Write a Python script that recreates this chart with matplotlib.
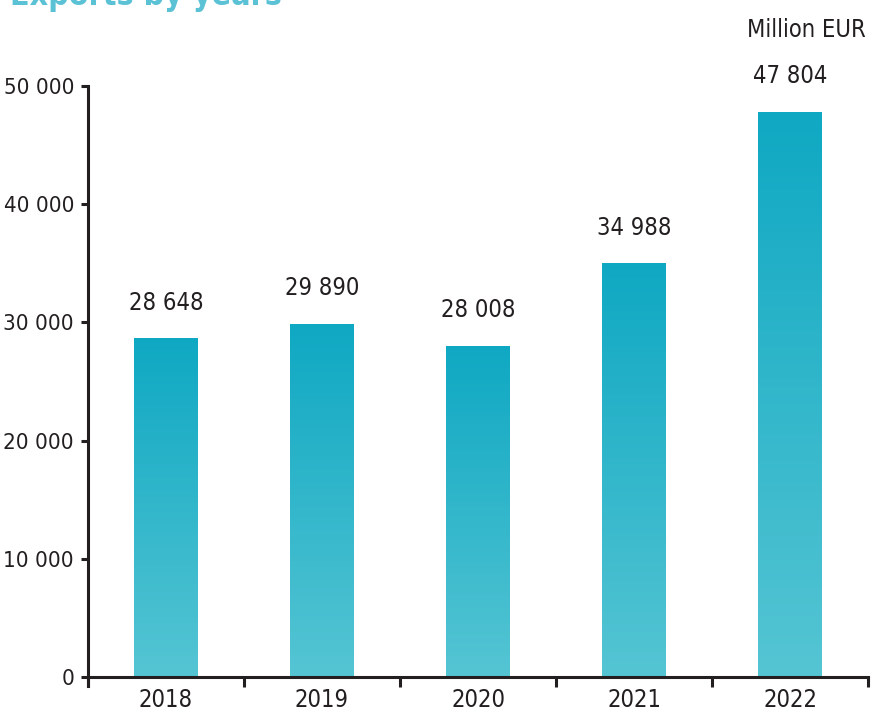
import numpy as np
import matplotlib
matplotlib.use("Agg")
import matplotlib.pyplot as plt
from matplotlib.colors import LinearSegmentedColormap

plt.rcParams['font.family'] = ['DejaVu Sans']
plt.rcParams['font.stretch'] = 'condensed'

years = ["2018", "2019", "2020", "2021", "2022"]
exports = [28648, 29890, 28008, 34988, 47804]
yticks = [0, 10000, 20000, 30000, 40000, 50000]
ytick_labels = ["0", "10 000", "20 000", "30 000", "40 000", "50 000"]

def fmt(v):
    return f"{v:,}".replace(",", " ")

fig = plt.figure(figsize=(8.71, 7.15), dpi=100)
ax = fig.add_axes([0.101, 0.0531, 0.8956, 0.8266])

cmap = LinearSegmentedColormap.from_list("teal", ["#55c5d3", "#0fa8c3"])
grad = np.linspace(0, 1, 256).reshape(-1, 1)
x = np.arange(len(years))
width = 0.41
bars = ax.bar(x, exports, width=width, color="none", edgecolor="none")
for b in bars:
    x0, h = b.get_x(), b.get_height()
    im = ax.imshow(grad, cmap=cmap, origin="lower", aspect="auto",
                   extent=[x0, x0 + width, 0, h], zorder=1)
    im.set_clip_path(b)
    ax.annotate(fmt(int(h)), (x0 + width / 2, h), xytext=(0, 17),
                textcoords="offset points", ha="center", va="bottom",
                fontsize=17, color="#231f20")

ax.set_xlim(-0.5, len(years) - 0.5)
ax.set_ylim(0, 50000)

ax.set_xticks(np.arange(-0.5, len(years), 1.0))
ax.set_xticklabels([])
ax.set_xticks(x, minor=True)
ax.set_xticklabels(years, minor=True, fontsize=17, color="#231f20")
ax.tick_params(axis="x", which="minor", length=0, pad=8)
ax.tick_params(axis="x", which="major", length=7, width=2.2, color="#231f20", direction="out")

ax.set_yticks(yticks)
ax.set_yticklabels(ytick_labels, fontsize=16, color="#231f20")
ax.tick_params(axis="y", length=5, width=2.2, color="#231f20", pad=5)

for s in ["top", "right"]:
    ax.spines[s].set_visible(False)
for s in ["left", "bottom"]:
    ax.spines[s].set_linewidth(2.2)
    ax.spines[s].set_color("#231f20")
ax.spines["left"].set_bounds(-800, 50000)

fig.text(0.926, 0.958, "Million EUR", ha="center", va="center", fontsize=17, color="#231f20")
fig.text(0.011, 1 - 5 / 715, "Exports by years", ha="left", va="baseline", fontsize=23,
         fontweight="bold", color="#5bc2d6")

fig.savefig("out.png", dpi=100)
